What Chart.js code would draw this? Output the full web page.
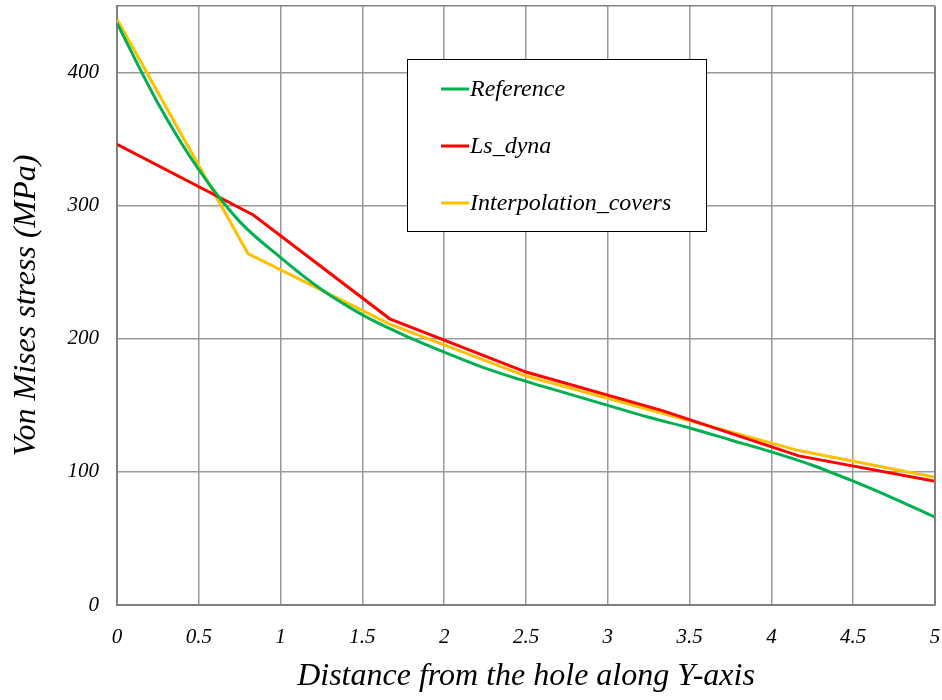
<!DOCTYPE html>
<html>
<head>
<meta charset="utf-8">
<script src="https://cdn.jsdelivr.net/npm/chart.js@4.4.1/dist/chart.umd.min.js"></script>
<style>
  html, body { margin: 0; padding: 0; background: #fff; }
  #wrap { width: 942px; height: 700px; }
</style>
</head>
<body>
<div id="wrap"><canvas id="chart" width="942" height="700"></canvas></div>
<script>
// Reference curve (smooth)
const refX = [0, 0.25, 0.5, 0.75, 1, 1.25, 1.5, 1.75, 2, 2.25, 2.5, 2.75, 3, 3.25, 3.5, 3.75, 4, 4.25, 4.5, 4.75, 5];
const refY = [437, 377, 327, 288, 261, 237, 218, 203, 190, 178, 168, 159, 150, 141, 133, 124, 115, 105, 93, 80, 66];

// Ls_dyna nodes
const lsDynaX = [0, 0.833, 1.667, 2.5, 3.333, 4.167, 5];
const lsDynaY = [346, 293, 215, 175, 146, 112, 93];

// Interpolation_covers nodes
const interpX = [0, 0.8, 1.667, 2.5, 3.333, 4.167, 5];
const interpY = [440, 264, 211, 172, 144, 116, 96];

const yTicks = [0, 100, 200, 300, 400, 450];

const FONT = 'Liberation Serif, Times New Roman, serif';

const toPoints = (xs, ys) => xs.map((x, i) => ({ x: x, y: ys[i] }));

// legend drawn inside the plot, with a black box
const boxLegend = {
    id: 'boxLegend',
    afterDraw(chart) {
        const ctx = chart.ctx;
        const x0 = 407, y0 = 59, w = 299, h = 172;
        ctx.save();
        ctx.fillStyle = '#fff';
        ctx.fillRect(x0, y0, w, h);
        ctx.strokeStyle = '#000';
        ctx.lineWidth = 1;
        ctx.strokeRect(x0 + 0.5, y0 + 0.5, w, h);
        ctx.font = 'italic 24px ' + FONT;
        ctx.textBaseline = 'middle';
        chart.data.datasets.forEach((ds, i) => {
            const y = 89 + i * 57;
            ctx.strokeStyle = ds.borderColor;
            ctx.lineWidth = 3;
            ctx.beginPath();
            ctx.moveTo(441, y);
            ctx.lineTo(469, y);
            ctx.stroke();
            ctx.fillStyle = '#000';
            ctx.fillText(ds.label, 470, y + 1);
        });
        ctx.restore();
    }
};

new Chart(document.getElementById('chart'), {
    type: 'line',
    data: {
        datasets: [
            {
                label: 'Reference',
                data: toPoints(refX, refY),
                borderColor: '#00B050',
                borderWidth: 3,
                pointRadius: 0,
                cubicInterpolationMode: 'monotone'
            },
            {
                label: 'Ls_dyna',
                data: toPoints(lsDynaX, lsDynaY),
                borderColor: '#FF0000',
                borderWidth: 3,
                pointRadius: 0
            },
            {
                label: 'Interpolation_covers',
                data: toPoints(interpX, interpY),
                borderColor: '#FFC000',
                borderWidth: 3,
                pointRadius: 0
            }
        ]
    },
    options: {
        responsive: false,
        animation: false,
        layout: { padding: { top: 6, right: 7, left: 0, bottom: 0 } },
        plugins: {
            legend: { display: false },
            tooltip: { enabled: false }
        },
        scales: {
            x: {
                type: 'linear',
                min: 0,
                max: 5,
                ticks: {
                    stepSize: 0.5,
                    padding: 20,
                    color: '#000',
                    maxRotation: 0,
                    font: { family: FONT, style: 'italic', size: 21 },
                    callback: (v) => String(v)
                },
                grid: { color: '#999', lineWidth: 1.5, drawTicks: false },
                border: { color: '#808080', width: 2 },
                title: {
                    display: true,
                    text: 'Distance from the hole along Y-axis',
                    color: '#000',
                    font: { family: FONT, style: 'italic', size: 32 },
                    padding: { top: 0, bottom: 4 }
                },
                afterFit: (s) => { s.height = 95; s.paddingLeft = 0; s.paddingRight = 0; }
            },
            y: {
                type: 'linear',
                min: 0,
                max: 450,
                afterBuildTicks: (s) => { s.ticks = yTicks.map(v => ({ value: v })); },
                ticks: {
                    padding: 18,
                    color: '#000',
                    font: { family: FONT, style: 'italic', size: 21 },
                    callback: (v) => v === 450 ? '' : v
                },
                grid: { color: (c) => c.tick && c.tick.value === 450 ? '#808080' : '#999', lineWidth: 1.5, drawTicks: false },
                border: { color: '#808080', width: 2 },
                title: {
                    display: true,
                    text: 'Von Mises stress (MPa)',
                    color: '#000',
                    font: { family: FONT, style: 'italic', size: 32 },
                    padding: { top: 7, bottom: 0 }
                },
                afterFit: (s) => { s.width = 117; s.paddingTop = 0; s.paddingBottom = 0; }
            }
        }
    },
    plugins: [boxLegend, {
        id: 'rightBorder',
        afterDraw(chart) {
            const a = chart.chartArea, ctx = chart.ctx;
            ctx.save();
            ctx.strokeStyle = '#808080';
            ctx.lineWidth = 2;
            ctx.beginPath();
            ctx.moveTo(a.right, a.top);
            ctx.lineTo(a.right, a.bottom);
            ctx.stroke();
            ctx.restore();
        }
    }]
});
</script>
</body>
</html>
